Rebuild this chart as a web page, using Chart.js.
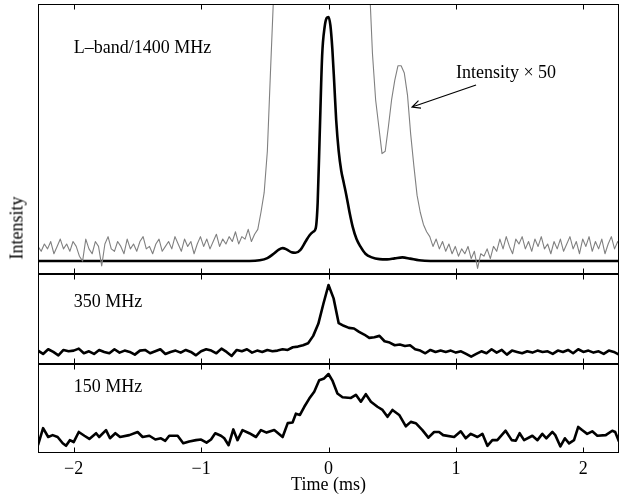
<!DOCTYPE html>
<html>
<head>
<meta charset="utf-8">
<script src="https://cdn.jsdelivr.net/npm/chart.js@4.4.1/dist/chart.umd.min.js"></script>
<style>
  body { margin: 0; background: #fff; }
  #fig { position: relative; width: 623px; height: 497px; }
  #fig canvas { position: absolute; left: 0; }
  #ylab {
    position: absolute; left: 17px; top: 228px;
    transform: translate(-50%, -50%) rotate(-90deg);
    font: 18px "Liberation Serif", serif; color: #000; white-space: nowrap;
  }
</style>
</head>
<body>
<div id="fig">
  <canvas id="c1400" width="623" height="280" style="top:0px"></canvas>
  <canvas id="c350" width="623" height="100" style="top:270px"></canvas>
  <canvas id="c150" width="623" height="137" style="top:360px"></canvas>
  <div id="ylab">Intensity</div>
</div>
<script>
'use strict';

// * Shared time axis (ms)
const tMin = -2.28;
const tMax = 2.28;
const tickTimes = [-2, -1, 0, 1, 2];

// * L-band / 1400 MHz profile (normalised)
const t1400 = [-2.3, -0.62, -0.54, -0.48, -0.43, -0.39, -0.36, -0.33, -0.29, -0.26,
  -0.22, -0.18, -0.15, -0.12, -0.1, -0.085, -0.07, -0.05, -0.03, -0.015,
  0, 0.015, 0.03, 0.045, 0.06, 0.08, 0.1, 0.12, 0.14, 0.165,
  0.19, 0.22, 0.25, 0.29, 0.34, 0.4, 0.46, 0.52, 0.58, 0.64,
  0.71, 0.8, 2.3];
const v1400 = [0, 0, 0.003, 0.012, 0.03, 0.047, 0.053, 0.048, 0.036, 0.034,
  0.046, 0.08, 0.105, 0.12, 0.135, 0.24, 0.5, 0.84, 0.96, 0.995,
  1.0, 0.965, 0.87, 0.73, 0.58, 0.45, 0.37, 0.32, 0.27, 0.2,
  0.14, 0.09, 0.06, 0.03, 0.015, 0.008, 0.007, 0.011, 0.015, 0.01,
  0.003, 0, 0];

// * Same profile x 50 (grey trace), bins of 0.025 ms starting at tMin
const grayBin = 0.025;
const v1400x50 = [
  0.06, 0.04, 0.07, 0.05, 0.08, 0.03, 0.06, 0.09, 0.05, 0.07,
  0.04, 0.08, 0.06, 0.02, 0.0, 0.09, 0.05, 0.03, 0.08, 0.06,
  -0.02, 0.07, 0.1, 0.05, 0.04, 0.08, 0.06, 0.03, 0.09, 0.05,
  0.07, 0.04, 0.08, 0.1, 0.05, 0.06, 0.03, 0.07, 0.09, 0.04,
  0.06, 0.08, 0.05, 0.1, 0.07, 0.04, 0.09, 0.06, 0.08, 0.03,
  0.07, 0.1, 0.06, 0.09, 0.05, 0.08, 0.11, 0.06, 0.09, 0.07,
  0.1, 0.08, 0.12, 0.07, 0.1, 0.09, 0.13, 0.08, 0.11, 0.13,
  0.2, 0.28, 0.45, 0.78, 1.1, 1.6, 2.3, 2.7, 2.6, 2.2,
  1.9, 2.0, 2.7, 3.6, 4.3, 5.4, 6.1, 6.6, 15, 40,
  48, 50, 47, 36, 25, 19.5, 16, 13, 9, 6.5,
  4.6, 3.5, 2.4, 1.6, 1.15, 0.85, 0.66, 0.55, 0.44, 0.45,
  0.55, 0.66, 0.74, 0.8, 0.8, 0.77, 0.68, 0.52, 0.39, 0.27,
  0.2, 0.15, 0.12, 0.1, 0.06, 0.09, 0.05, 0.08, 0.04, 0.07,
  0.03, 0.06, 0.02, 0.05, 0.03, 0.06, 0.01, 0.04, -0.03, 0.03,
  0.02, 0.05, 0.01, 0.06, 0.04, 0.09, 0.05, 0.1, 0.06, 0.03,
  0.09, 0.07, 0.1, 0.05, 0.08, 0.04, 0.09, 0.06, 0.1, 0.05,
  0.07, 0.03, 0.08, 0.05, 0.09, 0.04, 0.07, 0.1, 0.05, 0.08,
  0.03, 0.09, 0.06, 0.1, 0.04, 0.08, 0.05, 0.09, 0.03, 0.07,
  0.1, 0.05, 0.08, 0.06,
];

// * 350 MHz profile, bins of 0.04 ms starting at tMin
const bin350 = 0.04;
const v350 = [
  0.02, -0.03, 0.04, 0.0, -0.05, 0.03, 0.01, 0.02, 0.05, -0.02,
  0.01, -0.03, 0.03, 0.0, -0.02, 0.04, -0.01, 0.02, 0.0, -0.04,
  0.02, 0.03, -0.02, 0.01, 0.04, -0.03, 0.0, 0.02, -0.01, 0.03,
  0.0, -0.05, 0.01, 0.04, 0.02, -0.02, 0.05, 0.0, -0.06, 0.03,
  0.01, 0.04, -0.01, 0.02, 0.0, 0.03, 0.01, 0.02, 0.04, 0.03,
  0.07, 0.08, 0.1, 0.13, 0.24, 0.42, 0.72, 1.0, 0.8, 0.43,
  0.39, 0.36, 0.35, 0.3, 0.26, 0.21, 0.22, 0.24, 0.16, 0.14,
  0.1, 0.11, 0.09, 0.1, 0.04, 0.02, -0.02, 0.03, 0.0, 0.02,
  0.0, 0.02, -0.01, 0.01, -0.03, -0.07, -0.03, 0.01, -0.02, 0.04,
  -0.01, 0.03, -0.04, 0.02, 0.0, -0.02, 0.01, -0.01, 0.02, 0.0,
  0.01, -0.03, 0.02, 0.0, 0.03, -0.02, 0.04, 0.0, 0.02, -0.01,
  0.01, -0.03, 0.02, 0.0, -0.04,
];

// * 150 MHz profile
const t150 = [-2.28, -2.24, -2.2, -2.165, -2.126, -2.086, -2.06, -2.03, -2.0, -1.96,
  -1.916, -1.877, -1.824, -1.8, -1.746, -1.715, -1.673, -1.636, -1.563, -1.498,
  -1.459, -1.406, -1.359, -1.315, -1.281, -1.25, -1.184, -1.14, -1.093, -1.04,
  -1.0, -0.957, -0.922, -0.889, -0.844, -0.818, -0.784, -0.747, -0.714, -0.675,
  -0.622, -0.569, -0.53, -0.486, -0.426, -0.36, -0.32, -0.282, -0.256, -0.224,
  -0.19, -0.151, -0.112, -0.073, -0.034, 0, 0.03, 0.07, 0.11, 0.176,
  0.215, 0.254, 0.293, 0.333, 0.384, 0.424, 0.463, 0.502, 0.555, 0.607,
  0.646, 0.685, 0.737, 0.784, 0.829, 0.868, 0.9, 0.986, 1.038, 1.077,
  1.117, 1.169, 1.208, 1.247, 1.286, 1.325, 1.39, 1.438, 1.47, 1.5,
  1.535, 1.6, 1.64, 1.678, 1.71, 1.757, 1.78, 1.82, 1.855, 1.888,
  1.927, 1.96, 1.99, 2.03, 2.07, 2.11, 2.176, 2.227, 2.25, 2.28];
const v150 = [-0.13, 0.14, 0.0, 0.03, 0.0, -0.1, -0.14, -0.05, -0.08, 0.08,
  0.02, -0.03, 0.06, 0.0, 0.11, -0.02, 0.06, 0.0, 0.03, 0.08,
  0.0, 0.02, -0.04, -0.02, -0.06, 0.02, 0.02, -0.1, -0.07, -0.05,
  -0.04, -0.09, -0.04, 0.06, 0.02, -0.02, -0.13, 0.12, -0.05, 0.11,
  0.06, 0.0, 0.11, 0.07, 0.11, 0.0, 0.22, 0.23, 0.37, 0.35,
  0.48, 0.61, 0.72, 0.9, 0.93, 1.0, 0.9, 0.69, 0.63, 0.62,
  0.67, 0.56, 0.68, 0.56, 0.48, 0.43, 0.32, 0.43, 0.35, 0.17,
  0.24, 0.22, 0.11, -0.01, 0.08, 0.08, 0.03, 0.0, 0.09, -0.02,
  0.05, 0.0, 0.05, -0.14, -0.05, -0.05, 0.1, -0.05, -0.06, 0.06,
  -0.05, 0.02, -0.05, 0.05, -0.02, 0.08, 0.03, -0.15, -0.02, -0.1,
  -0.05, 0.16, 0.11, 0.05, 0.09, 0.02, 0.03, 0.1, 0.08, -0.07];

const serif = '"Liberation Serif", "Times New Roman", serif';

const pairs = (ts, vs) => vs.map((v, i) => ({ x: ts[i], y: v }));
const binned = (bin, vs) => vs.map((v, i) => ({ x: +(tMin + i * bin).toFixed(3), y: v }));

// * Box round each panel plus inward ticks top and bottom, and the text notes.
const framePlugin = {
  id: 'frame',
  afterDraw(chart, args, opts) {
    const { ctx, chartArea: a, scales } = chart;
    const x = scales.x;
    const y = scales.y;
    const l = Math.round(a.left) + 0.5;
    const r = Math.round(a.right) - 0.5;
    const t = Math.round(a.top) + 0.5;
    const b = Math.round(a.bottom) - 0.5;
    ctx.save();
    ctx.strokeStyle = '#000';
    ctx.lineWidth = 1;
    ctx.strokeRect(l, t, r - l, b - t);
    ctx.beginPath();
    tickTimes.forEach((v) => {
      const px = Math.round(x.getPixelForValue(v)) + 0.5;
      ctx.moveTo(px, t);
      ctx.lineTo(px, t + 5);
      ctx.moveTo(px, b);
      ctx.lineTo(px, b - 5);
    });
    ctx.stroke();

    ctx.fillStyle = '#000';
    ctx.font = `18px ${serif}`;
    ctx.textAlign = 'left';
    ctx.textBaseline = 'middle';
    (opts.notes || []).forEach((n) => {
      ctx.fillText(n.text, x.getPixelForValue(n.x), y.getPixelForValue(n.y));
    });

    (opts.arrows || []).forEach((ar) => {
      const x0 = x.getPixelForValue(ar.from[0]);
      const y0 = y.getPixelForValue(ar.from[1]);
      const x1 = x.getPixelForValue(ar.to[0]);
      const y1 = y.getPixelForValue(ar.to[1]);
      const ang = Math.atan2(y1 - y0, x1 - x0);
      const head = 9;
      ctx.lineWidth = 1.2;
      ctx.beginPath();
      ctx.moveTo(x0, y0);
      ctx.lineTo(x1, y1);
      ctx.moveTo(x1 - head * Math.cos(ang - 0.45), y1 - head * Math.sin(ang - 0.45));
      ctx.lineTo(x1, y1);
      ctx.lineTo(x1 - head * Math.cos(ang + 0.45), y1 - head * Math.sin(ang + 0.45));
      ctx.stroke();
    });
    ctx.restore();
  },
};

function panel(id, datasets, yMin, yMax, padding, frameOpts, xAxis) {
  return new Chart(document.getElementById(id), {
    type: 'line',
    data: { datasets },
    options: {
      responsive: false,
      animation: false,
      devicePixelRatio: 1,
      layout: { padding },
      elements: { point: { radius: 0 }, line: { tension: 0, borderJoinStyle: 'round' } },
      plugins: { legend: { display: false }, tooltip: { enabled: false }, frame: frameOpts },
      scales: {
        x: xAxis || { type: 'linear', min: tMin, max: tMax, display: false },
        y: { type: 'linear', min: yMin, max: yMax, display: false },
      },
    },
    plugins: [framePlugin],
  });
}

window.addEventListener('load', () => {
  panel('c1400', [
    { data: binned(grayBin, v1400x50), borderColor: '#808080', borderWidth: 1.1 },
    { data: pairs(t1400, v1400), borderColor: '#000', borderWidth: 2.6, cubicInterpolationMode: 'monotone' },
  ], -0.053, 1.053, { top: 4, left: 38, right: 4, bottom: 6 }, {
    notes: [
      { text: 'L\u2013band/1400 MHz', x: -2.0, y: 0.873 },
      { text: 'Intensity \u00d7 50', x: 1.0, y: 0.77 },
    ],
    arrows: [{ from: [1.158, 0.721], to: [0.656, 0.631] }],
  });

  panel('c350', [
    { data: binned(bin350, v350), borderColor: '#000', borderWidth: 2.6 },
  ], -0.18, 1.164, { top: 4, left: 38, right: 4, bottom: 6 }, {
    notes: [{ text: '350 MHz', x: -2.0, y: 0.746 }],
  });

  panel('c150', [
    { data: pairs(t150, v150), borderColor: '#000', borderWidth: 2.6 },
  ], -0.254, 1.159, { top: 4, left: 38, right: 4, bottom: 0 }, {
    notes: [{ text: '150 MHz', x: -2.0, y: 0.79 }],
  }, {
    type: 'linear',
    min: tMin,
    max: tMax,
    grid: { display: false, drawTicks: false },
    border: { display: false },
    ticks: {
      stepSize: 1,
      includeBounds: false,
      padding: 5,
      color: '#000',
      font: { family: serif, size: 18 },
      callback: (v) => (v < 0 ? '\u2212' + Math.abs(v) : String(v)),
    },
    title: {
      display: true,
      text: 'Time (ms)',
      color: '#000',
      font: { family: serif, size: 18 },
      padding: { top: 0, bottom: 1 },
    },
    afterFit: (scale) => { scale.height = 44; },
  });
});
</script>
</body>
</html>
